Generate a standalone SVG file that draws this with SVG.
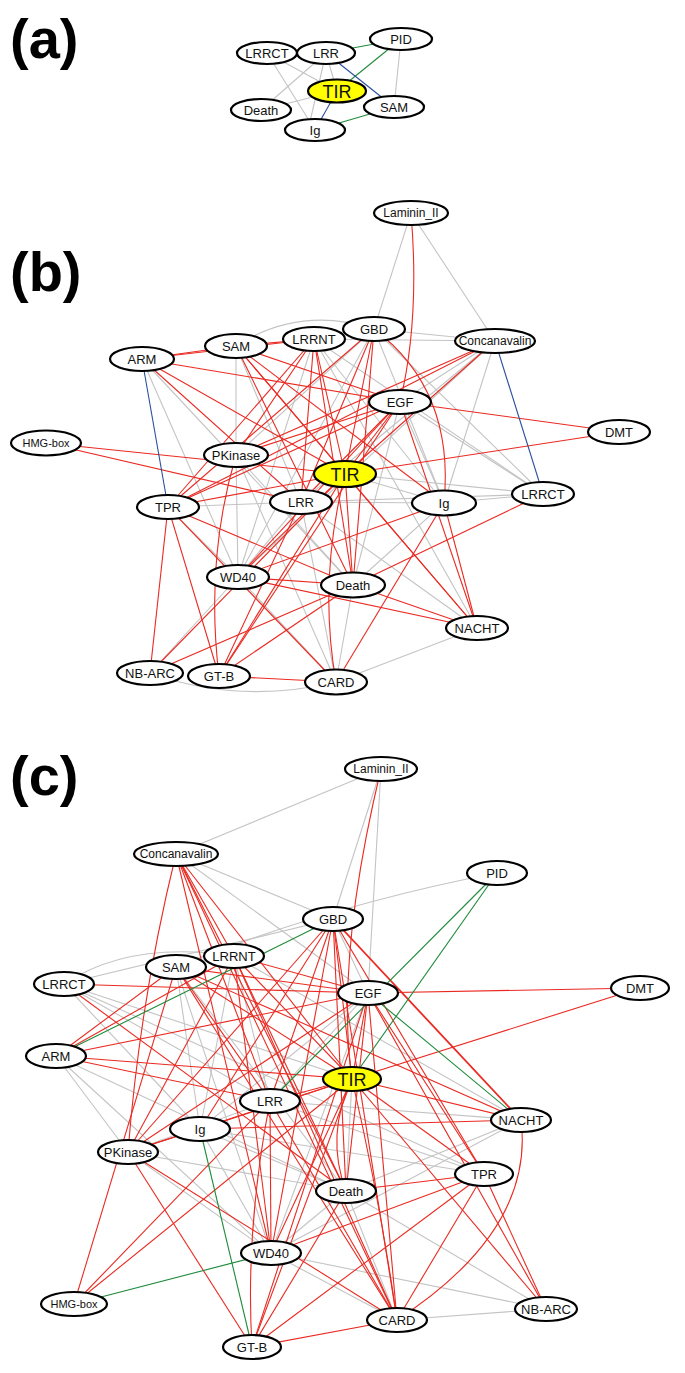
<svg xmlns="http://www.w3.org/2000/svg" width="685" height="1373" viewBox="0 0 685 1373">
<style>
.e line,.e path{fill:none;stroke-width:1.1}
.g{stroke:#c4c4c4}
.r{stroke:#ea2a22}
.gr{stroke:#1f8a3c}
.b{stroke:#2a4f9e}
.n ellipse{fill:#fff;stroke:#000;stroke-width:2.2}
.n.tir ellipse{fill:#ffff00}
.n text{font-family:"Liberation Sans",Arial,sans-serif;font-size:13px;text-anchor:middle;fill:#111}
.n.tir text{font-size:18px}
.n text.s{font-size:12px}
.n text.xs{font-size:11px}
.lab{font-family:"Liberation Sans",Arial,Helvetica,sans-serif;font-weight:bold;font-size:56px;fill:#000}
</style>
<rect width="685" height="1373" fill="#fff"/>
<text class="lab" x="10" y="58">(a)</text>
<text class="lab" x="10" y="291">(b)</text>
<text class="lab" x="10" y="795">(c)</text>

<!-- ================= PANEL A ================= -->
<g id="connectors-a" class="e">
<line class="g" x1="267" y1="53" x2="315" y2="130"/>
<line class="g" x1="267" y1="53" x2="337" y2="91"/>
<line class="g" x1="326" y1="53" x2="261" y2="110"/>
<line class="g" x1="326" y1="53" x2="308" y2="130"/>
<line class="g" x1="326" y1="53" x2="337" y2="91"/>
<line class="g" x1="261" y1="110" x2="337" y2="91"/>
<line class="g" x1="401" y1="39" x2="394" y2="107"/>
<line class="gr" x1="326" y1="53" x2="401" y2="39"/>
<line class="gr" x1="401" y1="39" x2="337" y2="91"/>
<line class="gr" x1="315" y1="130" x2="394" y2="107"/>
<line class="b" x1="326" y1="53" x2="394" y2="107"/>
<line class="b" x1="337" y1="91" x2="315" y2="130"/>
</g>
<g id="a-LRRCT" class="n"><ellipse cx="267" cy="53" rx="30" ry="11"/><text x="267" y="57.5">LRRCT</text></g>
<g id="a-LRR" class="n"><ellipse cx="326" cy="53" rx="29" ry="11"/><text x="326" y="57.5">LRR</text></g>
<g id="a-PID" class="n"><ellipse cx="401" cy="39" rx="31" ry="11"/><text x="401" y="43.5">PID</text></g>
<g id="a-TIR" class="n tir"><ellipse cx="337" cy="91" rx="29" ry="11.5"/><text x="337" y="97.5">TIR</text></g>
<g id="a-Death" class="n"><ellipse cx="261" cy="110" rx="30" ry="11"/><text x="261" y="114.5">Death</text></g>
<g id="a-SAM" class="n"><ellipse cx="394" cy="107" rx="30" ry="11"/><text x="394" y="111.5">SAM</text></g>
<g id="a-Ig" class="n"><ellipse cx="315" cy="130" rx="30" ry="11"/><text x="315" y="134.5">Ig</text></g>

<!-- ================= PANEL B ================= -->
<g id="connectors-b" class="e">
<line class="g" x1="411" y1="213" x2="374" y2="329"/>
<line class="g" x1="411" y1="213" x2="495" y2="341"/>
<path class="g" d="M236,346 Q300,305 374,329"/>
<line class="g" x1="374" y1="329" x2="495" y2="341"/>
<line class="g" x1="314" y1="339" x2="495" y2="341"/>
<line class="g" x1="236" y1="346" x2="236" y2="455"/>
<line class="g" x1="236" y1="455" x2="238" y2="577"/>
<line class="g" x1="142" y1="359" x2="353" y2="585"/>
<line class="g" x1="142" y1="359" x2="238" y2="577"/>
<line class="g" x1="314" y1="339" x2="444" y2="503"/>
<line class="g" x1="314" y1="339" x2="543" y2="494"/>
<line class="g" x1="374" y1="329" x2="543" y2="494"/>
<line class="g" x1="374" y1="329" x2="236" y2="455"/>
<line class="g" x1="374" y1="329" x2="238" y2="577"/>
<line class="g" x1="374" y1="329" x2="444" y2="503"/>
<line class="g" x1="495" y1="341" x2="444" y2="503"/>
<line class="g" x1="495" y1="341" x2="301" y2="502"/>
<line class="g" x1="495" y1="341" x2="400" y2="402"/>
<line class="g" x1="495" y1="341" x2="238" y2="577"/>
<line class="g" x1="400" y1="402" x2="543" y2="494"/>
<line class="g" x1="400" y1="402" x2="444" y2="503"/>
<line class="g" x1="400" y1="402" x2="353" y2="585"/>
<line class="g" x1="345" y1="474" x2="543" y2="494"/>
<line class="g" x1="345" y1="474" x2="444" y2="503"/>
<line class="g" x1="168" y1="507" x2="301" y2="502"/>
<line class="g" x1="301" y1="502" x2="444" y2="503"/>
<line class="g" x1="301" y1="502" x2="543" y2="494"/>
<line class="g" x1="444" y1="503" x2="543" y2="494"/>
<line class="g" x1="168" y1="507" x2="238" y2="577"/>
<line class="g" x1="238" y1="577" x2="150" y2="673"/>
<line class="g" x1="238" y1="577" x2="336" y2="682"/>
<line class="g" x1="353" y1="585" x2="336" y2="682"/>
<line class="g" x1="477" y1="628" x2="336" y2="682"/>
<path class="g" d="M150,673 Q240,705 336,682"/>
<line class="g" x1="236" y1="455" x2="353" y2="585"/>
<line class="g" x1="301" y1="502" x2="336" y2="682"/>
<line class="g" x1="301" y1="502" x2="238" y2="577"/>
<line class="g" x1="444" y1="503" x2="353" y2="585"/>
<line class="g" x1="236" y1="346" x2="301" y2="502"/>
<line class="g" x1="314" y1="339" x2="238" y2="577"/>
<line class="g" x1="236" y1="455" x2="336" y2="682"/>
<line class="g" x1="301" y1="502" x2="477" y2="628"/>
<line class="g" x1="314" y1="339" x2="477" y2="628"/>
<line class="r" x1="142" y1="359" x2="236" y2="346"/>
<line class="r" x1="142" y1="359" x2="314" y2="339"/>
<line class="r" x1="142" y1="359" x2="400" y2="402"/>
<line class="r" x1="142" y1="359" x2="345" y2="474"/>
<line class="r" x1="142" y1="359" x2="301" y2="502"/>
<line class="r" x1="236" y1="346" x2="314" y2="339"/>
<line class="r" x1="236" y1="346" x2="400" y2="402"/>
<line class="r" x1="236" y1="346" x2="345" y2="474"/>
<line class="r" x1="236" y1="346" x2="353" y2="585"/>
<line class="r" x1="236" y1="346" x2="444" y2="503"/>
<line class="r" x1="236" y1="346" x2="477" y2="628"/>
<line class="r" x1="314" y1="339" x2="168" y2="507"/>
<line class="r" x1="314" y1="339" x2="345" y2="474"/>
<line class="r" x1="314" y1="339" x2="301" y2="502"/>
<line class="r" x1="314" y1="339" x2="353" y2="585"/>
<line class="r" x1="314" y1="339" x2="236" y2="455"/>
<line class="r" x1="374" y1="329" x2="345" y2="474"/>
<line class="r" x1="374" y1="329" x2="301" y2="502"/>
<line class="r" x1="374" y1="329" x2="168" y2="507"/>
<line class="r" x1="374" y1="329" x2="353" y2="585"/>
<path class="r" d="M374,329 Q455,390 444,503"/>
<path class="r" d="M411,213 Q420,320 400,402"/>
<line class="r" x1="495" y1="341" x2="345" y2="474"/>
<line class="r" x1="495" y1="341" x2="168" y2="507"/>
<line class="r" x1="495" y1="341" x2="236" y2="455"/>
<line class="r" x1="400" y1="402" x2="619" y2="432"/>
<line class="r" x1="400" y1="402" x2="236" y2="455"/>
<line class="r" x1="400" y1="402" x2="168" y2="507"/>
<line class="r" x1="400" y1="402" x2="345" y2="474"/>
<line class="r" x1="400" y1="402" x2="301" y2="502"/>
<line class="r" x1="400" y1="402" x2="238" y2="577"/>
<line class="r" x1="400" y1="402" x2="219" y2="676"/>
<line class="r" x1="400" y1="402" x2="477" y2="628"/>
<line class="r" x1="619" y1="432" x2="345" y2="474"/>
<line class="r" x1="46" y1="443" x2="345" y2="474"/>
<line class="r" x1="46" y1="443" x2="301" y2="502"/>
<path class="r" d="M236,455 Q205,560 219,676"/>
<line class="r" x1="345" y1="474" x2="168" y2="507"/>
<line class="r" x1="345" y1="474" x2="238" y2="577"/>
<line class="r" x1="345" y1="474" x2="219" y2="676"/>
<line class="r" x1="345" y1="474" x2="150" y2="673"/>
<path class="r" d="M345,474 Q318,580 336,682"/>
<line class="r" x1="345" y1="474" x2="477" y2="628"/>
<line class="r" x1="345" y1="474" x2="353" y2="585"/>
<line class="r" x1="168" y1="507" x2="150" y2="673"/>
<line class="r" x1="168" y1="507" x2="219" y2="676"/>
<line class="r" x1="168" y1="507" x2="336" y2="682"/>
<line class="r" x1="168" y1="507" x2="353" y2="585"/>
<line class="r" x1="301" y1="502" x2="219" y2="676"/>
<line class="r" x1="444" y1="503" x2="238" y2="577"/>
<line class="r" x1="444" y1="503" x2="477" y2="628"/>
<line class="r" x1="444" y1="503" x2="336" y2="682"/>
<line class="r" x1="543" y1="494" x2="353" y2="585"/>
<line class="r" x1="238" y1="577" x2="353" y2="585"/>
<line class="r" x1="238" y1="577" x2="477" y2="628"/>
<line class="r" x1="353" y1="585" x2="477" y2="628"/>
<line class="r" x1="353" y1="585" x2="150" y2="673"/>
<line class="r" x1="353" y1="585" x2="219" y2="676"/>
<line class="r" x1="219" y1="676" x2="336" y2="682"/>
<line class="b" x1="142" y1="359" x2="168" y2="507"/>
<line class="b" x1="495" y1="341" x2="543" y2="494"/>
</g>
<g id="b-Laminin_II" class="n"><ellipse cx="411" cy="213" rx="37" ry="12"/><text class="s" x="411" y="217">Laminin_II</text></g>
<g id="b-GBD" class="n"><ellipse cx="374" cy="329" rx="31" ry="12"/><text x="374" y="333.5">GBD</text></g>
<g id="b-LRRNT" class="n"><ellipse cx="314" cy="339" rx="31" ry="12"/><text x="314" y="343.5">LRRNT</text></g>
<g id="b-SAM" class="n"><ellipse cx="236" cy="346" rx="31" ry="12"/><text x="236" y="350.5">SAM</text></g>
<g id="b-ARM" class="n"><ellipse cx="142" cy="359" rx="32" ry="12"/><text x="142" y="363.5">ARM</text></g>
<g id="b-Concanavalin" class="n"><ellipse cx="495" cy="341" rx="40" ry="12"/><text class="s" x="495" y="345">Concanavalin</text></g>
<g id="b-EGF" class="n"><ellipse cx="400" cy="402" rx="31" ry="12"/><text x="400" y="406.5">EGF</text></g>
<g id="b-DMT" class="n"><ellipse cx="619" cy="432" rx="31" ry="12"/><text x="619" y="436.5">DMT</text></g>
<g id="b-HMG-box" class="n"><ellipse cx="46" cy="443" rx="35" ry="12.5"/><text class="xs" x="46" y="447">HMG-box</text></g>
<g id="b-PKinase" class="n"><ellipse cx="236" cy="455" rx="32" ry="12"/><text x="236" y="459.5">PKinase</text></g>
<g id="b-TIR" class="n tir"><ellipse cx="345" cy="474" rx="31" ry="13"/><text x="345" y="480.5">TIR</text></g>
<g id="b-TPR" class="n"><ellipse cx="168" cy="507" rx="31" ry="12"/><text x="168" y="511.5">TPR</text></g>
<g id="b-LRR" class="n"><ellipse cx="301" cy="502" rx="31" ry="12"/><text x="301" y="506.5">LRR</text></g>
<g id="b-Ig" class="n"><ellipse cx="444" cy="503" rx="32" ry="12.5"/><text x="444" y="507.5">Ig</text></g>
<g id="b-LRRCT" class="n"><ellipse cx="543" cy="494" rx="31" ry="12"/><text x="543" y="498.5">LRRCT</text></g>
<g id="b-WD40" class="n"><ellipse cx="238" cy="577" rx="31" ry="12"/><text x="238" y="581.5">WD40</text></g>
<g id="b-Death" class="n"><ellipse cx="353" cy="585" rx="32" ry="12.5"/><text x="353" y="589.5">Death</text></g>
<g id="b-NACHT" class="n"><ellipse cx="477" cy="628" rx="31" ry="12"/><text x="477" y="632.5">NACHT</text></g>
<g id="b-NB-ARC" class="n"><ellipse cx="150" cy="673" rx="33" ry="12"/><text x="150" y="677.5">NB-ARC</text></g>
<g id="b-GT-B" class="n"><ellipse cx="219" cy="676" rx="31" ry="12"/><text x="219" y="680.5">GT-B</text></g>
<g id="b-CARD" class="n"><ellipse cx="336" cy="682" rx="31" ry="12.5"/><text x="336" y="686.5">CARD</text></g>

<!-- ================= PANEL C ================= -->
<g id="connectors-c" class="e">
<line class="g" x1="381" y1="769" x2="176" y2="854"/>
<line class="g" x1="381" y1="769" x2="333" y2="919"/>
<line class="g" x1="381" y1="769" x2="368" y2="993"/>
<line class="g" x1="176" y1="854" x2="333" y2="919"/>
<line class="g" x1="176" y1="854" x2="368" y2="993"/>
<path class="g" d="M497,873 Q330,905 176,967"/>
<line class="g" x1="333" y1="919" x2="64" y2="984"/>
<path class="g" d="M64,984 Q130,940 234,956"/>
<line class="g" x1="64" y1="984" x2="270" y2="1101"/>
<line class="g" x1="64" y1="984" x2="200" y2="1129"/>
<line class="g" x1="64" y1="984" x2="352" y2="1079"/>
<line class="g" x1="64" y1="984" x2="484" y2="1174"/>
<line class="g" x1="56" y1="1056" x2="128" y2="1152"/>
<line class="g" x1="56" y1="1056" x2="271" y2="1253"/>
<line class="g" x1="56" y1="1056" x2="346" y2="1191"/>
<line class="g" x1="176" y1="967" x2="200" y2="1129"/>
<line class="g" x1="176" y1="967" x2="271" y2="1253"/>
<line class="g" x1="176" y1="967" x2="346" y2="1191"/>
<line class="g" x1="234" y1="956" x2="200" y2="1129"/>
<line class="g" x1="234" y1="956" x2="270" y2="1101"/>
<line class="g" x1="234" y1="956" x2="521" y2="1120"/>
<line class="g" x1="333" y1="919" x2="368" y2="993"/>
<line class="g" x1="368" y1="993" x2="270" y2="1101"/>
<line class="g" x1="368" y1="993" x2="200" y2="1129"/>
<line class="g" x1="368" y1="993" x2="271" y2="1253"/>
<line class="g" x1="352" y1="1079" x2="346" y2="1191"/>
<line class="g" x1="270" y1="1101" x2="521" y2="1120"/>
<line class="g" x1="270" y1="1101" x2="484" y2="1174"/>
<line class="g" x1="128" y1="1152" x2="200" y2="1129"/>
<line class="g" x1="128" y1="1152" x2="270" y2="1101"/>
<line class="g" x1="128" y1="1152" x2="271" y2="1253"/>
<line class="g" x1="128" y1="1152" x2="346" y2="1191"/>
<line class="g" x1="271" y1="1253" x2="397" y2="1320"/>
<line class="g" x1="271" y1="1253" x2="546" y2="1309"/>
<line class="g" x1="271" y1="1253" x2="521" y2="1120"/>
<line class="g" x1="271" y1="1253" x2="346" y2="1191"/>
<line class="g" x1="346" y1="1191" x2="397" y2="1320"/>
<line class="g" x1="346" y1="1191" x2="546" y2="1309"/>
<line class="g" x1="346" y1="1191" x2="521" y2="1120"/>
<line class="g" x1="397" y1="1320" x2="546" y2="1309"/>
<line class="g" x1="200" y1="1129" x2="484" y2="1174"/>
<line class="g" x1="200" y1="1129" x2="271" y2="1253"/>
<line class="g" x1="200" y1="1129" x2="346" y2="1191"/>
<path class="r" d="M381,769 Q335,960 352,1079"/>
<path class="r" d="M176,854 Q140,1000 128,1152"/>
<line class="r" x1="176" y1="854" x2="271" y2="1253"/>
<line class="r" x1="176" y1="854" x2="346" y2="1191"/>
<line class="r" x1="176" y1="854" x2="234" y2="956"/>
<line class="r" x1="176" y1="854" x2="352" y2="1079"/>
<line class="r" x1="176" y1="854" x2="397" y2="1320"/>
<line class="r" x1="176" y1="854" x2="270" y2="1101"/>
<line class="r" x1="333" y1="919" x2="352" y2="1079"/>
<line class="r" x1="333" y1="919" x2="270" y2="1101"/>
<line class="r" x1="333" y1="919" x2="200" y2="1129"/>
<line class="r" x1="333" y1="919" x2="128" y2="1152"/>
<line class="r" x1="333" y1="919" x2="346" y2="1191"/>
<line class="r" x1="333" y1="919" x2="521" y2="1120" style="stroke-width:1.8"/>
<line class="r" x1="333" y1="919" x2="484" y2="1174"/>
<line class="r" x1="333" y1="919" x2="397" y2="1320"/>
<line class="r" x1="333" y1="919" x2="271" y2="1253"/>
<line class="r" x1="234" y1="956" x2="128" y2="1152"/>
<line class="r" x1="234" y1="956" x2="352" y2="1079"/>
<line class="r" x1="234" y1="956" x2="346" y2="1191"/>
<line class="r" x1="234" y1="956" x2="397" y2="1320"/>
<line class="r" x1="234" y1="956" x2="271" y2="1253"/>
<line class="r" x1="234" y1="956" x2="368" y2="993"/>
<line class="r" x1="234" y1="956" x2="56" y2="1056"/>
<line class="r" x1="176" y1="967" x2="368" y2="993"/>
<line class="r" x1="176" y1="967" x2="56" y2="1056"/>
<line class="r" x1="176" y1="967" x2="352" y2="1079"/>
<line class="r" x1="176" y1="967" x2="270" y2="1101"/>
<line class="r" x1="176" y1="967" x2="74" y2="1304"/>
<line class="r" x1="176" y1="967" x2="397" y2="1320"/>
<line class="r" x1="176" y1="967" x2="521" y2="1120"/>
<line class="r" x1="64" y1="984" x2="368" y2="993"/>
<line class="r" x1="64" y1="984" x2="346" y2="1191"/>
<line class="r" x1="56" y1="1056" x2="368" y2="993"/>
<line class="r" x1="56" y1="1056" x2="352" y2="1079"/>
<line class="r" x1="56" y1="1056" x2="270" y2="1101"/>
<line class="r" x1="368" y1="993" x2="640" y2="988"/>
<line class="r" x1="368" y1="993" x2="352" y2="1079"/>
<line class="r" x1="368" y1="993" x2="346" y2="1191"/>
<line class="r" x1="368" y1="993" x2="484" y2="1174"/>
<line class="r" x1="368" y1="993" x2="397" y2="1320"/>
<line class="r" x1="368" y1="993" x2="546" y2="1309"/>
<line class="r" x1="368" y1="993" x2="252" y2="1347"/>
<line class="r" x1="368" y1="993" x2="128" y2="1152"/>
<line class="r" x1="640" y1="988" x2="352" y2="1079"/>
<line class="r" x1="352" y1="1079" x2="521" y2="1120"/>
<line class="r" x1="352" y1="1079" x2="270" y2="1101"/>
<line class="r" x1="352" y1="1079" x2="200" y2="1129"/>
<line class="r" x1="352" y1="1079" x2="128" y2="1152"/>
<line class="r" x1="352" y1="1079" x2="484" y2="1174"/>
<path class="r" d="M352,1079 Q325,1135 346,1191"/>
<line class="r" x1="352" y1="1079" x2="271" y2="1253"/>
<line class="r" x1="352" y1="1079" x2="252" y2="1347"/>
<path class="r" d="M352,1079 Q380,1200 397,1320"/>
<line class="r" x1="352" y1="1079" x2="546" y2="1309"/>
<line class="r" x1="352" y1="1079" x2="74" y2="1304"/>
<line class="r" x1="521" y1="1120" x2="200" y2="1129"/>
<path class="r" d="M521,1120 Q535,1230 397,1320"/>
<line class="r" x1="200" y1="1129" x2="128" y2="1152"/>
<line class="r" x1="128" y1="1152" x2="252" y2="1347"/>
<line class="r" x1="128" y1="1152" x2="397" y2="1320"/>
<line class="r" x1="270" y1="1101" x2="271" y2="1253"/>
<line class="r" x1="270" y1="1101" x2="397" y2="1320"/>
<line class="r" x1="270" y1="1101" x2="74" y2="1304"/>
<path class="r" d="M270,1101 Q245,1230 252,1347"/>
<line class="r" x1="484" y1="1174" x2="346" y2="1191"/>
<line class="r" x1="484" y1="1174" x2="271" y2="1253"/>
<line class="r" x1="484" y1="1174" x2="397" y2="1320"/>
<line class="r" x1="484" y1="1174" x2="252" y2="1347"/>
<line class="r" x1="484" y1="1174" x2="546" y2="1309"/>
<line class="r" x1="252" y1="1347" x2="397" y2="1320"/>
<line class="r" x1="346" y1="1191" x2="252" y2="1347"/>
<line class="gr" x1="497" y1="873" x2="352" y2="1079"/>
<line class="gr" x1="497" y1="873" x2="270" y2="1101"/>
<line class="gr" x1="333" y1="919" x2="56" y2="1056"/>
<line class="gr" x1="368" y1="993" x2="521" y2="1120"/>
<line class="gr" x1="200" y1="1129" x2="252" y2="1347"/>
<line class="gr" x1="74" y1="1304" x2="271" y2="1253"/>
</g>
<g id="c-Laminin_II" class="n"><ellipse cx="381" cy="769" rx="36" ry="12"/><text class="s" x="381" y="773">Laminin_II</text></g>
<g id="c-Concanavalin" class="n"><ellipse cx="176" cy="854" rx="42" ry="12"/><text class="s" x="176" y="858">Concanavalin</text></g>
<g id="c-PID" class="n"><ellipse cx="497" cy="873" rx="30" ry="12"/><text x="497" y="877.5">PID</text></g>
<g id="c-GBD" class="n"><ellipse cx="333" cy="919" rx="30" ry="12"/><text x="333" y="923.5">GBD</text></g>
<g id="c-LRRNT" class="n"><ellipse cx="234" cy="956" rx="30" ry="12"/><text x="234" y="960.5">LRRNT</text></g>
<g id="c-SAM" class="n"><ellipse cx="176" cy="967" rx="30" ry="12"/><text x="176" y="971.5">SAM</text></g>
<g id="c-LRRCT" class="n"><ellipse cx="64" cy="984" rx="30" ry="12"/><text x="64" y="988.5">LRRCT</text></g>
<g id="c-EGF" class="n"><ellipse cx="368" cy="993" rx="30" ry="12"/><text x="368" y="997.5">EGF</text></g>
<g id="c-DMT" class="n"><ellipse cx="640" cy="988" rx="29" ry="12"/><text x="640" y="992.5">DMT</text></g>
<g id="c-ARM" class="n"><ellipse cx="56" cy="1056" rx="30" ry="12"/><text x="56" y="1060.5">ARM</text></g>
<g id="c-TIR" class="n tir"><ellipse cx="352" cy="1079" rx="29" ry="12"/><text x="352" y="1085.5">TIR</text></g>
<g id="c-LRR" class="n"><ellipse cx="270" cy="1101" rx="30" ry="12"/><text x="270" y="1105.5">LRR</text></g>
<g id="c-NACHT" class="n"><ellipse cx="521" cy="1120" rx="30" ry="12"/><text x="521" y="1124.5">NACHT</text></g>
<g id="c-Ig" class="n"><ellipse cx="200" cy="1129" rx="30" ry="12"/><text x="200" y="1133.5">Ig</text></g>
<g id="c-PKinase" class="n"><ellipse cx="128" cy="1152" rx="30" ry="12"/><text x="128" y="1156.5">PKinase</text></g>
<g id="c-TPR" class="n"><ellipse cx="484" cy="1174" rx="29" ry="12"/><text x="484" y="1178.5">TPR</text></g>
<g id="c-Death" class="n"><ellipse cx="346" cy="1191" rx="30" ry="12"/><text x="346" y="1195.5">Death</text></g>
<g id="c-WD40" class="n"><ellipse cx="271" cy="1253" rx="30" ry="12"/><text x="271" y="1257.5">WD40</text></g>
<g id="c-HMG-box" class="n"><ellipse cx="74" cy="1304" rx="33" ry="12"/><text class="xs" x="74" y="1308">HMG-box</text></g>
<g id="c-NB-ARC" class="n"><ellipse cx="546" cy="1309" rx="31" ry="12"/><text x="546" y="1313.5">NB-ARC</text></g>
<g id="c-CARD" class="n"><ellipse cx="397" cy="1320" rx="30" ry="12"/><text x="397" y="1324.5">CARD</text></g>
<g id="c-GT-B" class="n"><ellipse cx="252" cy="1347" rx="29" ry="12"/><text x="252" y="1351.5">GT-B</text></g>
</svg>
